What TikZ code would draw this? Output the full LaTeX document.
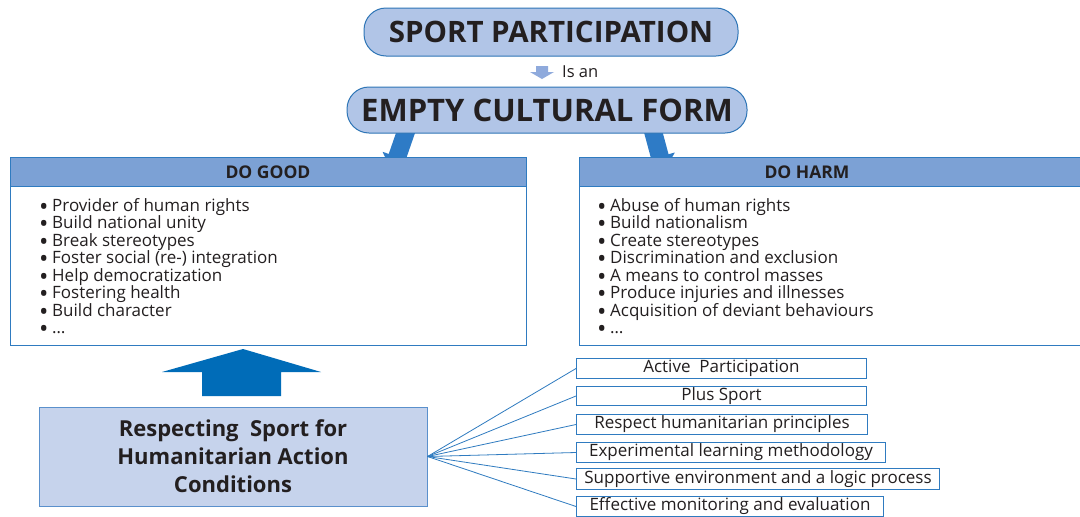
\documentclass[tikz,border=0pt]{standalone}
\usepackage{fontspec}
\setmainfont{Open Sans}
\usetikzlibrary{arrows.meta,calc,backgrounds}
\definecolor{pillfill}{HTML}{B1C5E7}
\definecolor{pillline}{HTML}{2E75B6}
\definecolor{headfill}{HTML}{7CA1D5}
\definecolor{boxline}{HTML}{2F7BC0}
\definecolor{slantblue}{HTML}{2E7BC6}
\definecolor{bigblue}{HTML}{006CB8}
\definecolor{smallblue}{HTML}{8FAADC}
\definecolor{bottomfill}{HTML}{C6D3EC}
\definecolor{bottomline}{HTML}{5A90CC}
\definecolor{ink}{HTML}{231F20}
\newcommand{\blt}{\makebox[13pt][l]{\smash{\raisebox{-4.2pt}{\fontsize{25}{0}\selectfont •}}}}
\begin{document}
\begin{tikzpicture}[x=1pt,y=-1pt,
  every node/.style={text=ink},
  pill/.style={draw=pillline, line width=1pt, fill=pillfill, rounded corners=22pt, inner sep=0pt},
  headbox/.style={draw=boxline, line width=1pt, fill=headfill, inner sep=0pt},
  bodybox/.style={draw=boxline, line width=1pt, inner sep=0pt},
  headtext/.style={font=\bfseries\fontsize{17.5}{20}\selectfont, inner sep=0pt},
  listtext/.style={font=\fontsize{17}{17.5}\selectfont, align=left, inner sep=0pt, anchor=north west},
  bottombox/.style={draw=bottomline, line width=1pt, fill=bottomfill, inner sep=0pt, align=center,
    font=\bfseries\fontsize{22}{28}\selectfont},
  smallbox/.style={draw=boxline, line width=1pt, inner sep=0pt, anchor=north west,
    font=\fontsize{17}{18}\selectfont},
  slant/.style={draw=slantblue, line width=18pt, -{Triangle[length=16pt,width=30pt]}},
  fan/.style={draw=boxline, line width=0.8pt}
]
\useasboundingbox (0,0) rectangle (1080,517);

% top pills
\node[pill, minimum width=374pt, minimum height=48pt, font=\bfseries\fontsize{29.5}{31}\selectfont] (sp) at (551,32) {SPORT PARTICIPATION};
\node[pill, minimum width=400pt, minimum height=46pt, font=\bfseries\fontsize{31}{33}\selectfont] (ecf) at (547,110) {EMPTY CULTURAL FORM};

% "Is an"
\fill[smallblue] (536,66) -- (548,66) -- (548,72) -- (554,72) -- (542,79) -- (530,72) -- (536,72) -- cycle;
\node[font=\fontsize{16.5}{18}\selectfont, anchor=west, inner sep=0pt] (isan) at (562,72) {Is an};

% DO GOOD
\node[headbox, minimum width=516pt, minimum height=29pt, anchor=north west] (goodh) at (10,157) {};
\node[headtext] (goodt) at (268,172) {DO GOOD};
\node[bodybox, minimum width=516pt, minimum height=159pt, anchor=north west] (goodb) at (10,186) {};
\node[listtext] (goodl) at (39,198) {%
\blt Provider of human rights\\
\blt Build national unity\\
\blt Break stereotypes\\
\blt Foster social (re-) integration\\
\blt Help democratization\\
\blt Fostering health\\
\blt Build character\\
\blt …};

% DO HARM
\node[headbox, minimum width=510pt, minimum height=29pt, anchor=north west] (harmh) at (579,157) {};
\node[headtext] (harmt) at (807,172) {DO HARM};
\node[bodybox, minimum width=510pt, minimum height=159pt, anchor=north west] (harmb) at (579,186) {};
\node[listtext] (harml) at (597,198) {%
\blt Abuse of human rights\\
\blt Build nationalism\\
\blt Create stereotypes\\
\blt Discrimination and exclusion\\
\blt A means to control masses\\
\blt Produce injuries and illnesses\\
\blt Acquisition of deviant behaviours\\
\blt …};

% bottom box
\node[bottombox, minimum width=388pt, minimum height=99pt] (rs) at (233,456.5) {Respecting\ \ Sport for\\Humanitarian Action\\Conditions};

% big up arrow
\fill[bigblue] (202,396) -- (202,372) -- (162,372) -- (243,349) -- (321,372) -- (281,372) -- (281,396) -- cycle;

% condition boxes
\node[smallbox, minimum width=290pt, minimum height=20pt] (c1) at (576,358) {Active\ \ Participation};
\node[smallbox, minimum width=290pt, minimum height=19pt] (c2) at (576,386) {Plus Sport};
\node[smallbox, minimum width=291pt, minimum height=20pt] (c3) at (576,414) {Respect humanitarian principles};
\node[smallbox, minimum width=309pt, minimum height=20pt] (c4) at (576,442) {Experimental learning methodology};
\node[smallbox, minimum width=363pt, minimum height=21pt] (c5) at (576,468) {Supportive environment and a logic process};
\node[smallbox, minimum width=307pt, minimum height=20pt] (c6) at (576,496) {Effective monitoring and evaluation};

\foreach \c in {c1,c2,c3,c4,c5,c6} \draw[fan] (rs.east) -- (\c.west);

\begin{scope}[on background layer]
\fill[white] (0,0) rectangle (1080,517);
\coordinate (la1) at (410,120);
\coordinate (la2) at (392,172);
\coordinate (ra1) at (650,120);
\coordinate (ra2) at (664,172);
\draw[slant] (la1) -- (la2);
\draw[slant] (ra1) -- (ra2);
\end{scope}
\end{tikzpicture}
\end{document}
